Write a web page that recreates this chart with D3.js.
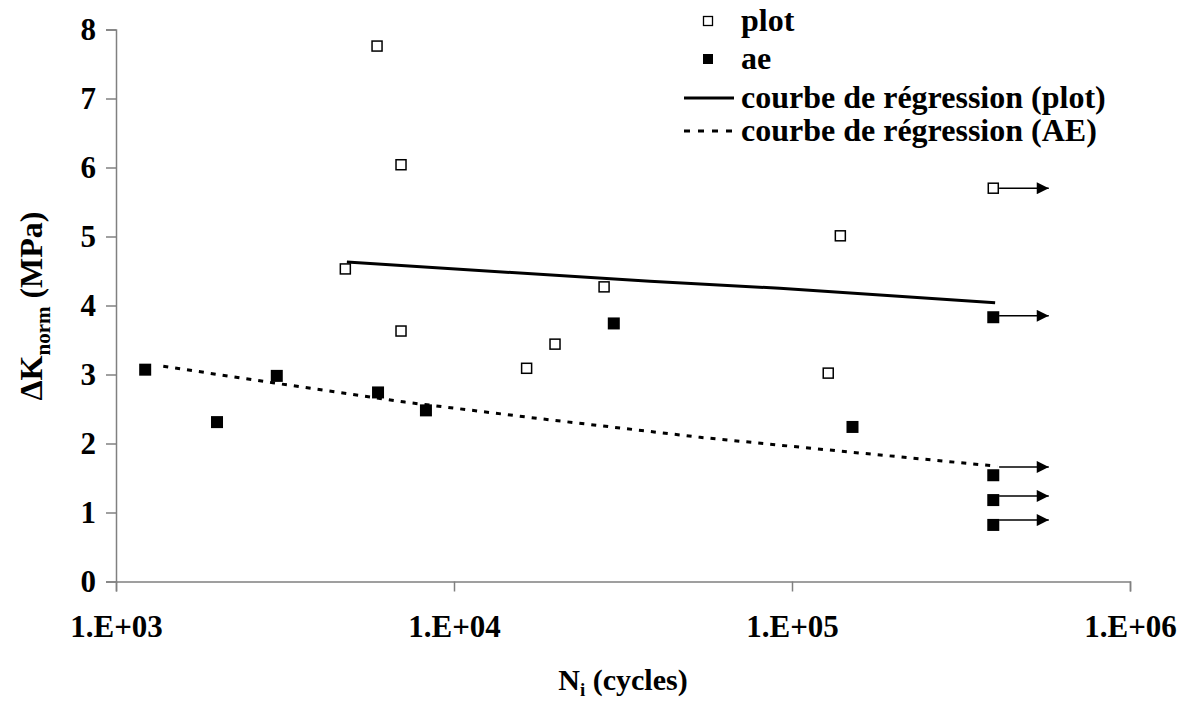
<!DOCTYPE html>
<html>
<head>
<meta charset="utf-8">
<script src="https://cdn.jsdelivr.net/npm/d3@7"></script>
<style>
  body { margin: 0; background: #fff; }
  text { font-family: "Liberation Serif", "DejaVu Serif", serif; font-weight: bold; }
</style>
</head>
<body>
<div id="chart"></div>
<script>
// plot data (open squares): N_i in cycles, dK_norm in MPa
var plotN = [4770, 5920, 6970, 6970, 16400, 19900, 27800, 128000, 139000, 394000];
var plotK = [4.53, 7.76, 6.04, 3.63, 3.09, 3.44, 4.27, 3.02, 5.01, 5.70];

// ae data (filled squares)
var aeN = [1220, 1990, 2990, 5960, 8260, 29700, 151000, 394000, 394000, 394000, 394000];
var aeK = [3.07, 2.31, 2.98, 2.74, 2.48, 3.74, 2.24, 3.83, 1.54, 1.18, 0.82];

// regression curves
var regPlotN = [4820, 38000, 92000, 399000];
var regPlotK = [4.63, 4.35, 4.25, 4.04];
var regAeN = [1380, 2910, 7160, 17950, 53450, 138700, 404600];
var regAeK = [3.12, 2.88, 2.60, 2.36, 2.09, 1.89, 1.67];

// arrows (run-outs)
var arrowStart = 410000, arrowEnd = 575000;
var arrowK = [5.70, 3.85, 1.66, 1.24, 0.89];

var xTicks = [1e3, 1e4, 1e5, 1e6];
var yTicks = [0, 1, 2, 3, 4, 5, 6, 7, 8];

var width = 1187, height = 702;
var margin = { left: 116, right: 1130, top: 29.5, bottom: 581.5 };

var svg = d3.select("#chart").append("svg")
    .attr("width", width)
    .attr("height", height);

var x = d3.scaleLog().domain([1e3, 1e6]).range([margin.left, margin.right]);
var y = d3.scaleLinear().domain([0, 8]).range([margin.bottom, margin.top]);

var xAxis = d3.axisBottom(x).tickValues(xTicks).tickSize(10).tickPadding(22)
    .tickFormat(d => "1.E+0" + Math.round(Math.log10(d)));
var yAxis = d3.axisLeft(y).tickValues(yTicks).tickSize(10).tickPadding(10);

var gx = svg.append("g")
    .attr("transform", "translate(0," + margin.bottom + ")")
    .call(xAxis);
var gy = svg.append("g")
    .attr("transform", "translate(" + margin.left + ",0)")
    .call(yAxis);

[gx, gy].forEach(function(g) {
    g.select(".domain").attr("stroke", "#808080").attr("stroke-width", 1.5);
    g.selectAll(".tick line").attr("stroke", "#808080").attr("stroke-width", 1.5);
    g.selectAll(".tick text").attr("fill", "#000")
        .style("font-size", "31px")
        .style("font-family", "Liberation Serif")
        .style("font-weight", "bold");
});
gx.selectAll(".tick text").attr("dy", "0.75em");

// regression lines
var line = d3.line().x(d => x(d[0])).y(d => y(d[1]));

svg.append("path")
    .datum(d3.zip(regPlotN, regPlotK))
    .attr("fill", "none")
    .attr("stroke", "#000")
    .attr("stroke-width", 3)
    .attr("d", line);

svg.append("path")
    .datum(d3.zip(regAeN, regAeK))
    .attr("fill", "none")
    .attr("stroke", "#000")
    .attr("stroke-width", 3)
    .attr("stroke-dasharray", "5,7")
    .attr("d", line);

// arrows
var defs = svg.append("defs");
defs.append("marker")
    .attr("id", "head")
    .attr("viewBox", "0 0 10 10")
    .attr("refX", 10).attr("refY", 5)
    .attr("markerUnits", "userSpaceOnUse")
    .attr("markerWidth", 13).attr("markerHeight", 12)
    .attr("orient", "auto")
    .append("path")
    .attr("d", "M0,0L10,5L0,10Z")
    .attr("fill", "#000");

svg.selectAll(".arrow")
    .data(arrowK)
    .enter().append("line")
    .attr("class", "arrow")
    .attr("x1", x(arrowStart))
    .attr("x2", x(arrowEnd))
    .attr("y1", d => y(d))
    .attr("y2", d => y(d))
    .attr("stroke", "#000")
    .attr("stroke-width", 1.5)
    .attr("marker-end", "url(#head)");

// points
var s = 10;
svg.selectAll(".plot")
    .data(d3.zip(plotN, plotK))
    .enter().append("rect")
    .attr("class", "plot")
    .attr("x", d => x(d[0]) - s / 2)
    .attr("y", d => y(d[1]) - s / 2)
    .attr("width", s)
    .attr("height", s)
    .attr("fill", "#fff")
    .attr("stroke", "#000")
    .attr("stroke-width", 1.5);

var s2 = 12;
svg.selectAll(".ae")
    .data(d3.zip(aeN, aeK))
    .enter().append("rect")
    .attr("class", "ae")
    .attr("x", d => x(d[0]) - s2 / 2)
    .attr("y", d => y(d[1]) - s2 / 2)
    .attr("width", s2)
    .attr("height", s2)
    .attr("fill", "#000");

// legend
var legend = svg.append("g").attr("transform", "translate(684,0)");
var rows = [21, 59, 98, 131];

legend.append("rect").attr("x", 19.5).attr("y", rows[0] - 4.5).attr("width", 9).attr("height", 9)
    .attr("fill", "#fff").attr("stroke", "#000").attr("stroke-width", 1.3);
legend.append("rect").attr("x", 19).attr("y", rows[1] - 5).attr("width", 10).attr("height", 10)
    .attr("fill", "#000");
legend.append("line").attr("x1", 0).attr("x2", 50).attr("y1", rows[2]).attr("y2", rows[2])
    .attr("stroke", "#000").attr("stroke-width", 3);
legend.append("line").attr("x1", 0).attr("x2", 50).attr("y1", rows[3]).attr("y2", rows[3])
    .attr("stroke", "#000").attr("stroke-width", 3).attr("stroke-dasharray", "6,8");

var labels = ["plot", "ae", "courbe de régression (plot)", "courbe de régression (AE)"];
legend.selectAll(".lab")
    .data(labels)
    .enter().append("text")
    .attr("class", "lab")
    .attr("x", 57)
    .attr("y", (d, i) => rows[i])
    .attr("dy", "0.3em")
    .style("font-size", "32px")
    .text(d => d);

// axis titles
var xt = svg.append("text")
    .attr("x", 623)
    .attr("y", 690)
    .attr("text-anchor", "middle")
    .style("font-size", "30px");
xt.append("tspan").text("N");
xt.append("tspan").attr("dy", 6).style("font-size", "19px").text("i");
xt.append("tspan").attr("dy", -6).text(" (cycles)");

var yt = svg.append("text")
    .attr("transform", "translate(42,306) rotate(-90)")
    .attr("text-anchor", "middle")
    .style("font-size", "32px");
yt.append("tspan").text("ΔK");
yt.append("tspan").attr("dy", 8).style("font-size", "21px").text("norm");
yt.append("tspan").attr("dy", -8).text(" (MPa)");
</script>
</body>
</html>
